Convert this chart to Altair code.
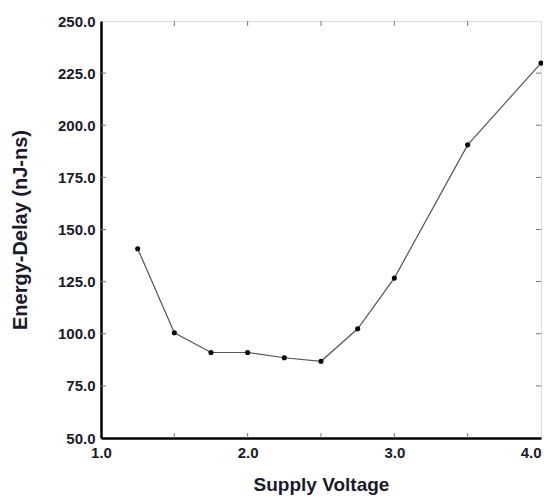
import altair as alt
import pandas as pd

# data
voltage = [1.25, 1.5, 1.75, 2.0, 2.25, 2.5, 2.75, 3.0, 3.5, 4.0]
energy_delay = [140.8, 100.5, 91.0, 91.0, 88.5, 86.8, 102.4, 126.7, 190.6, 229.8]

x_label_values = [1.0, 2.0, 3.0, 4.0]
y_label_values = [50, 75, 100, 125, 150, 175, 200, 225, 250]
x_tick_values = [1.5, 2.0, 2.5, 3.0, 3.5]
y_tick_values = [75, 100, 125, 150, 175, 200, 225]

W, H = 440, 417
FONT = "Liberation Sans"

df = pd.DataFrame({"v": voltage, "ed": energy_delay})
dfx = pd.DataFrame({"t": x_tick_values})
dfy = pd.DataFrame({"t": y_tick_values})

xs = alt.Scale(domain=[1.0, 4.0], nice=False, zero=False)
ys = alt.Scale(domain=[50, 250], nice=False, zero=False)

x_axis = alt.Axis(
    values=x_label_values, format=".1f", tickSize=0, grid=False,
    domainColor="#000", domainWidth=2.5,
    labelFont=FONT, labelFontSize=15, labelFontWeight="bold", labelColor="#1a1a2a",
    labelPadding=7, labelFlush=False,
    labelAlign=alt.expr("datum.value >= 4 ? 'right' : 'center'"),
    title="Supply Voltage", titleFont=FONT, titleFontSize=19, titleFontWeight="bold",
    titleColor="#1a1a2a", titleY=52, titleBaseline="alphabetic",
)
y_axis = alt.Axis(
    values=y_label_values, format=".1f", tickSize=0, grid=False,
    domainColor="#000", domainWidth=2.5,
    labelFont=FONT, labelFontSize=15, labelFontWeight="bold", labelColor="#1a1a2a",
    labelPadding=6, labelFlush=False,
    title="Energy-Delay (nJ-ns)", titleFont=FONT, titleFontSize=20, titleFontWeight="bold",
    titleColor="#1a1a2a", titleX=-81, titleY=H / 2, titleAlign="center",
    titleBaseline="middle", titleAngle=-90,
)

line = alt.Chart(df).mark_line(color="#555555", strokeWidth=1.2).encode(
    x=alt.X("v:Q", scale=xs, axis=x_axis),
    y=alt.Y("ed:Q", scale=ys, axis=y_axis),
)
pts = alt.Chart(df).mark_circle(color="#000000", size=26, opacity=1).encode(
    x=alt.X("v:Q", scale=xs),
    y=alt.Y("ed:Q", scale=ys),
)

tick_style = dict(color="#777777", strokeWidth=1)
left_ticks = alt.Chart(dfy).mark_rule(**tick_style).encode(
    y=alt.Y("t:Q", scale=ys), x=alt.value(0), x2=alt.value(5))
right_ticks = alt.Chart(dfy).mark_rule(**tick_style).encode(
    y=alt.Y("t:Q", scale=ys), x=alt.value(W - 5), x2=alt.value(W))
bottom_ticks = alt.Chart(dfx).mark_rule(**tick_style).encode(
    x=alt.X("t:Q", scale=xs), y=alt.value(H - 5), y2=alt.value(H))
top_ticks = alt.Chart(dfx).mark_rule(**tick_style).encode(
    x=alt.X("t:Q", scale=xs), y=alt.value(0), y2=alt.value(5))

chart = alt.layer(
    left_ticks, right_ticks, bottom_ticks, top_ticks, line, pts
).properties(
    width=W, height=H,
    autosize=alt.AutoSizeParams(type="none"),
    padding={"left": 93, "top": 13, "right": 2, "bottom": 58},
).configure_view(
    stroke="#222222", strokeWidth=1.5
).configure(background="white")

chart.save("out.html", embed_options={"renderer": "svg", "actions": False})
